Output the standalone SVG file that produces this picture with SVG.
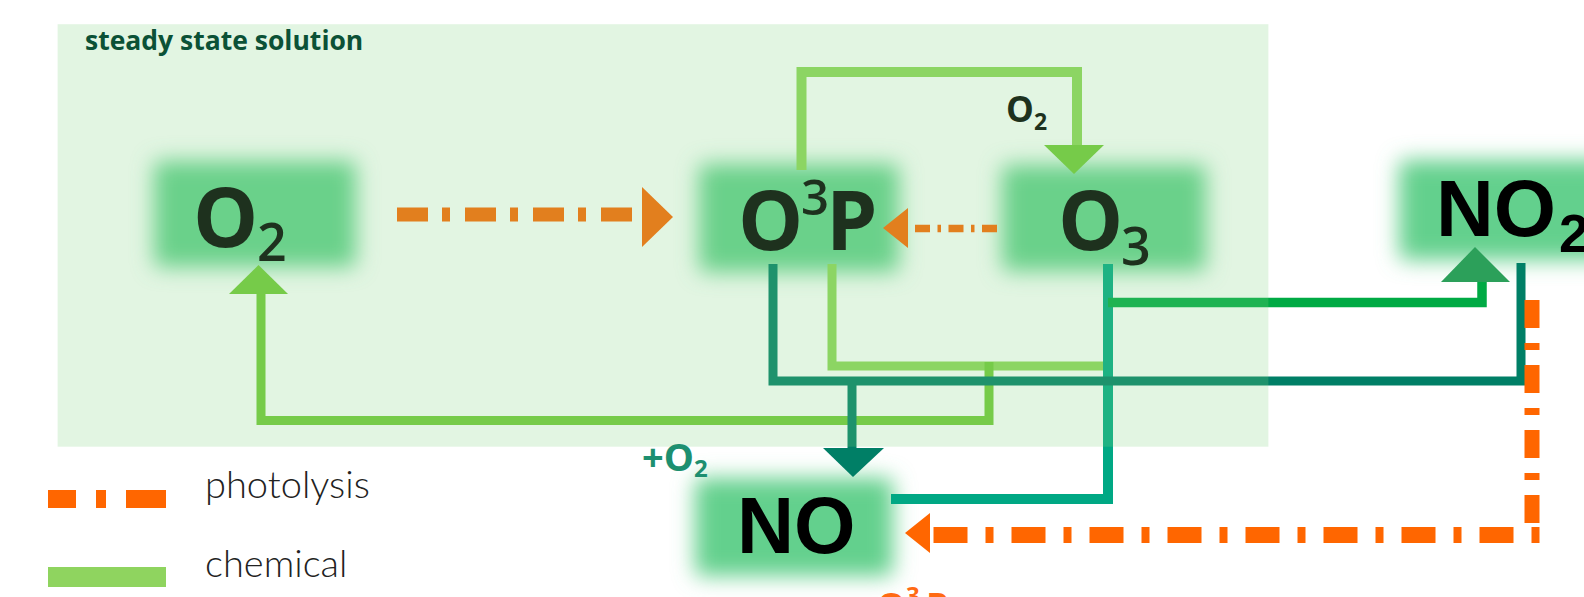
<svg xmlns="http://www.w3.org/2000/svg" width="1584" height="597" viewBox="0 0 1584 597">
<defs>
<filter id="glow" x="-30%" y="-50%" width="160%" height="200%">
<feGaussianBlur stdDeviation="10.5"/>
</filter>
<style>
.box{fill:#63d08d;filter:url(#glow)}
.lbl{font-family:"Open Sans","Liberation Sans",sans-serif;font-weight:700;fill:#000}
.nox{font-family:"Liberation Sans",Arial,sans-serif;font-weight:700;fill:#000}
.ln{fill:none;stroke-linejoin:miter;stroke-linecap:butt}
.photo{stroke:#ff6600}
.light{stroke:#90d65a;stroke-width:10}
.chem{stroke:#73c939;stroke-width:9}
.dteal{stroke:#007f66;stroke-width:9}
.teal{stroke:#00a884;stroke-width:10}
.green{stroke:#00aa44;stroke-width:9.5}
.leg{font-family:Lato,"Open Sans",sans-serif;font-weight:300;font-size:38px;fill:#222}
</style>
</defs>
<rect width="1584" height="597" fill="#fff"/>

<g id="node-O2">
<rect class="box" x="154" y="161" width="202" height="106" rx="6"/>
<text class="lbl"><tspan x="193" y="247" font-size="82">O</tspan><tspan x="257" y="261" font-size="52" font-weight="600">2</tspan></text>
</g>
<g id="node-O3P">
<rect class="box" x="699" y="164" width="200" height="108" rx="6"/>
<text class="lbl"><tspan x="738" y="250" font-size="82">O</tspan><tspan x="801" y="215" font-size="49" font-weight="600">3</tspan><tspan x="826" y="250" font-size="82">P</tspan></text>
</g>
<g id="node-O3">
<rect class="box" x="1002" y="165" width="204" height="106" rx="6"/>
<text class="lbl"><tspan x="1058" y="250" font-size="82">O</tspan><tspan x="1121" y="265" font-size="52" font-weight="600">3</tspan></text>
</g>
<g id="node-NO2">
<rect class="box" x="1399" y="160" width="226" height="100" rx="6"/>
<text class="nox"><tspan x="1436" y="236" font-size="80">NO</tspan><tspan x="1559" y="252" font-size="54">2</tspan></text>
</g>
<g id="node-NO">
<rect class="box" x="695" y="478" width="198" height="98" rx="6"/>
<text class="nox" x="737" y="553" font-size="79">NO</text>
</g>

<g id="connectors">
<path class="ln light" d="M801.5,170 V72 H1077 V146"/>
<path class="ln light" style="stroke-width:9" d="M832,264 V366 H1104"/>
<path class="ln chem" d="M989,362 V420.5 H261 V294"/>
<path class="ln teal" d="M1108,264 V499 H891"/>
<path class="ln green" d="M1108,302.5 H1482 V282"/>
<path class="ln dteal" d="M773,264 V381 H1521 V263"/>
<path class="ln dteal" d="M852,381 V449"/>
<path class="ln photo" stroke-width="14" stroke-dasharray="31 14 8 15" d="M397,214.5 H637"/>
<path class="ln photo" stroke-width="7.5" stroke-dasharray="15 7.5 3.5 7.5" d="M997,228.5 H914"/>
<path class="ln photo" stroke-width="15" stroke-dasharray="28 15 7 15" d="M1532,300 V527"/>
<path class="ln photo" stroke-width="16" stroke-dasharray="8 18 34 18" d="M1539.5,535 H930"/>
<polygon fill="#ff6600" points="642,187 673,217 642,247"/>
<polygon fill="#ff6600" points="908,208 883,228 908,248"/>
<polygon fill="#73c939" points="1044,145 1104,145 1074,174"/>
<polygon fill="#73c939" points="229,294 288,294 258.5,265"/>
<polygon fill="#2ca05a" points="1441,282 1510,282 1475,247"/>
<polygon fill="#007f66" points="823,448 884,448 853,477"/>
<polygon fill="#ff6600" points="930,513 905,533 930,553"/>
<text class="lbl" font-weight="600"><tspan x="1006" y="122" font-size="35">O</tspan><tspan x="1034" y="130" font-size="23">2</tspan></text>
</g>

<rect id="steady-state" x="57.6" y="24.2" width="1210.8" height="422.5" fill="#81d582" fill-opacity="0.23"/>
<text x="85" y="50" font-family="'Open Sans','Liberation Sans',sans-serif" font-weight="700" font-size="26.5" fill="#0b5136">steady state solution</text>

<g id="labels">
<text class="lbl" style="fill:#1d8f70"><tspan x="642" y="471" font-size="38">+O</tspan><tspan x="694" y="477" font-size="24">2</tspan></text>
<text class="lbl" style="fill:#ff6a13"><tspan x="877" y="619" font-size="36">O</tspan><tspan x="906" y="604" font-size="24">3</tspan><tspan x="926" y="619" font-size="36">P</tspan></text>
</g>

<g id="legend">
<path class="ln photo" stroke-width="18" stroke-dasharray="28 20 10 20 40" d="M48,499 H166"/>
<text class="leg" x="205" y="498">photolysis</text>
<path class="ln" stroke="#8fd45f" stroke-width="20" d="M48,577 H166"/>
<text class="leg" x="205" y="577">chemical</text>
</g>
</svg>
